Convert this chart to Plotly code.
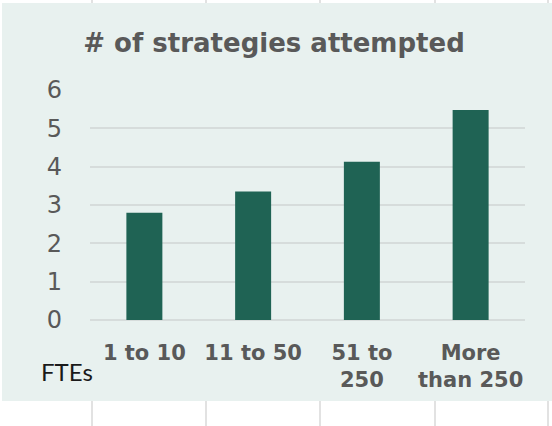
import plotly.graph_objects as go

categories = ["1 to 10", "11 to 50", "51 to<br>250", "More<br>than 250"]
values = [2.8, 3.35, 4.13, 5.48]
y_ticks = [0, 1, 2, 3, 4, 5, 6]
title_text = "# of strategies attempted"
axis_note = "FTEs"

W, H = 552, 426
L, R, T, B = 90, 27, 90, 106
pw, ph = W - L - R, H - T - B

def px_x(x):
    return (x - L) / pw

def px_y(y):
    return (H - B - y) / ph

panel = "#e8f1ef"
bar_color = "#1f6354"
grey_text = "#595959"
grid = "#d6dcdb"

fig = go.Figure(go.Bar(x=categories, y=values, marker=dict(color=bar_color, line=dict(width=0))))

shapes = []
# white areas outside the panel
for (x0, y0, x1, y1) in [(0, 0, W, 3), (0, 401, W, H), (0, 0, 2, H)]:
    shapes.append(dict(type="rect", xref="paper", yref="paper", layer="above",
                       x0=px_x(x0), x1=px_x(x1), y0=px_y(y1), y1=px_y(y0),
                       fillcolor="white", line=dict(width=0)))
for xv in [92, 206, 320, 435, 548]:
    for (ya, yb) in [(0, 3), (401, H)]:
        shapes.append(dict(type="line", xref="paper", yref="paper", layer="above",
                           x0=px_x(xv), x1=px_x(xv), y0=px_y(ya), y1=px_y(yb),
                           line=dict(color="#d9d9d9", width=1.5)))

fig.update_layout(
    width=W, height=H,
    margin=dict(l=L, r=R, t=T, b=B, pad=0),
    paper_bgcolor=panel, plot_bgcolor=panel,
    bargap=0.669,
    showlegend=False,
    title=dict(text="<b>" + title_text + "</b>", x=274 / W, xanchor="center",
               y=1 - 42.5 / H, yanchor="middle",
               font=dict(family="DejaVu Sans", size=26, color=grey_text)),
    shapes=shapes,
    annotations=[dict(text=axis_note, xref="paper", yref="paper",
                      x=px_x(39), y=px_y(383), xanchor="left", yanchor="bottom",
                      showarrow=False, yshift=-5,
                      font=dict(family="Lato", size=24, color="#1a1a1a"))],
)
fig.update_xaxes(showline=False, ticks="", showgrid=False,
                 tickfont=dict(family="DejaVu Sans", size=21, color=grey_text),
                 tickangle=0, ticklabelstandoff=18)
fig.update_yaxes(range=[0, 6], tickvals=y_ticks, showline=False, ticks="",
                 showgrid=True, gridcolor=grid, gridwidth=1.5,
                 zeroline=True, zerolinecolor=grid, zerolinewidth=1.5,
                 tickfont=dict(family="DejaVu Sans", size=24, color=grey_text),
                 ticklabelstandoff=27)
fig.update_xaxes(tickprefix="<b>", ticksuffix="</b>")

fig.write_html("out.html", config={"displayModeBar": False},
               post_script="document.body.style.margin='0';document.body.style.padding='0';")
